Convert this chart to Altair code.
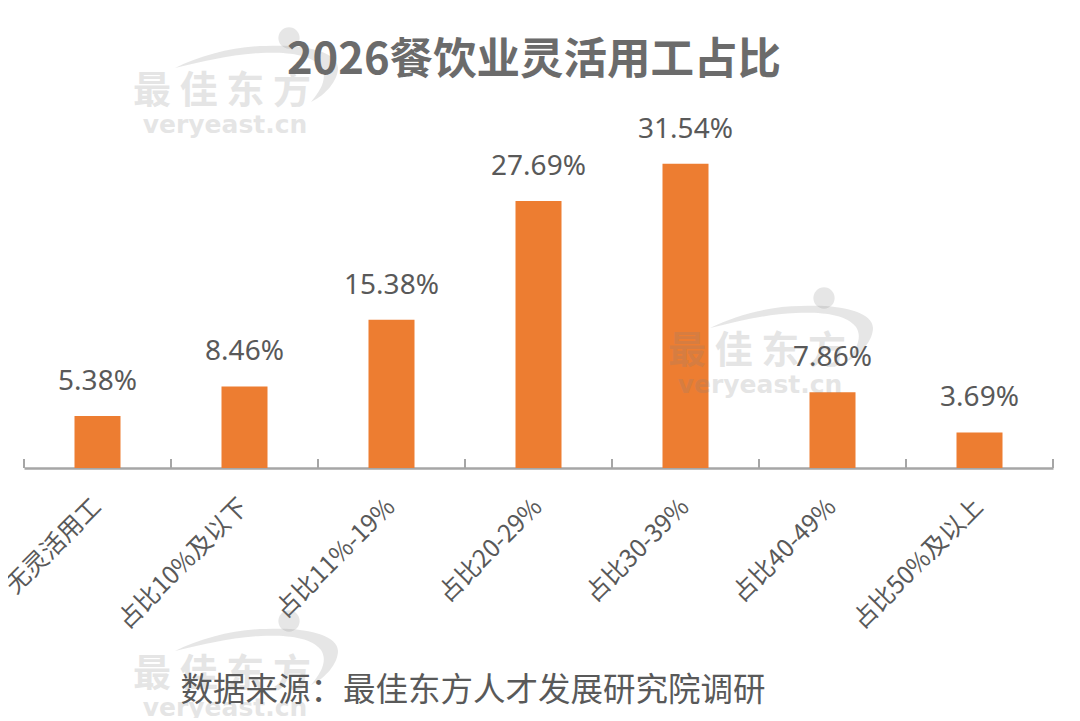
import pandas as pd
import altair as alt

categories = ['无灵活用工', '占比10%及以下', '占比11%-19%', '占比20-29%', '占比30-39%', '占比40-49%', '占比50%及以上']
shares = [0.0538, 0.0846, 0.1538, 0.2769, 0.3154, 0.0786, 0.0369]
title_text = '2026餐饮业灵活用工占比'
source_text = '数据来源：最佳东方人才发展研究院调研'
mark_cn = '最 佳 东 方'
mark_en = 'veryeast.cn'

data = pd.DataFrame({'cat': categories, 'share': shares})

FONT = 'Noto Sans CJK SC'
PLOT_W = 1029
PLOT_H = 460
INK = '#595959'

x_enc = alt.X('cat:N', sort=categories,
              scale=alt.Scale(domain=categories, paddingInner=0, paddingOuter=0),
              axis=alt.Axis(title=None, labelAngle=-45, labelAlign='right', labelBaseline='middle',
                            labelFont=FONT, labelFontSize=24.5, labelColor=INK, labelPadding=35,
                            labelLimit=300, ticks=False, domainColor='#a6a6a6', domainWidth=2.5))
y_enc = alt.Y('share:Q', scale=alt.Scale(domain=[0, 0.477], nice=False), axis=None)

bars = alt.Chart(data).mark_bar(size=46, color='#ed7d31').encode(x=x_enc, y=y_enc)

ticks = alt.Chart(data).mark_rule(color='#a6a6a6', strokeWidth=2).encode(
    x=alt.X('cat:N', sort=categories, bandPosition=0),
    y=alt.value(PLOT_H - 9),
    y2=alt.value(PLOT_H)
)
last_tick = alt.Chart(data.head(1)).mark_rule(color='#a6a6a6', strokeWidth=2).encode(
    x=alt.value(PLOT_W),
    y=alt.value(PLOT_H - 9),
    y2=alt.value(PLOT_H)
)

labels = alt.Chart(data).mark_text(font='Noto Sans', fontSize=28, color=INK, baseline='bottom', dy=-20).encode(
    x=alt.X('cat:N', sort=categories),
    y='share:Q',
    text=alt.Text('share:Q', format='.2%')
)

SWOOSH = ('M-.81,-.02 C-.55,-.15 -.2,-.24 .1,-.24 C.5,-.26 .82,-.18 .82,-.02 '
          'C.82,.1 .7,.25 .55,.32 C.65,.2 .72,.08 .65,-.03 '
          'C.55,-.16 .3,-.18 .05,-.17 C-.25,-.16 -.55,-.08 -.81,-.02 Z')


def note(text, x, y, **kw):
    return alt.Chart(pd.DataFrame({'t': [text]})).mark_text(**kw).encode(
        x=alt.value(x), y=alt.value(y), text='t:N')


def watermark(dx, dy):
    # one logo, placed by its offset from the one over the 30-39% bar
    ox, oy = 790 - 23 + dx, 330 - 8 + dy
    one = alt.Chart(data.head(1))
    return [
        one.mark_point(shape=SWOOSH, size=40000, filled=True, color='#808080', opacity=0.2, strokeWidth=0).encode(
            x=alt.value(ox), y=alt.value(oy)),
        one.mark_point(shape='circle', size=452, filled=True, color='#808080', opacity=0.2, strokeWidth=0).encode(
            x=alt.value(ox + 33), y=alt.value(oy - 32)),
        note(mark_cn, ox - 34, oy + 22, font=FONT, fontSize=38, fontWeight='bold', color='#808080', opacity=0.2),
        note(mark_en, ox - 31, oy + 55, font='DejaVu Sans', fontSize=25, fontWeight='bold', color='#808080', opacity=0.2),
    ]


layers = [bars, ticks, last_tick]
for dx, dy in [(0, 0), (-535, -260), (-535, 323)]:
    layers += watermark(dx, dy)
layers += [
    labels,
    note(title_text, 533 - 23, 61 - 8, font=FONT, fontSize=43.5, fontWeight='bold', color='#6b6b6b'),
    note(source_text, 472 - 23, 691 - 8, font=FONT, fontSize=32.5, color=INK),
]

chart = alt.layer(*layers).properties(
    width=PLOT_W,
    height=PLOT_H,
    background='white',
    padding={'left': 16, 'top': 0, 'right': 19, 'bottom': 250},
    autosize=alt.AutoSizeParams(type='none')
).configure_view(stroke=None)

chart.save("out.html", embed_options={"renderer": "svg", "actions": False})
